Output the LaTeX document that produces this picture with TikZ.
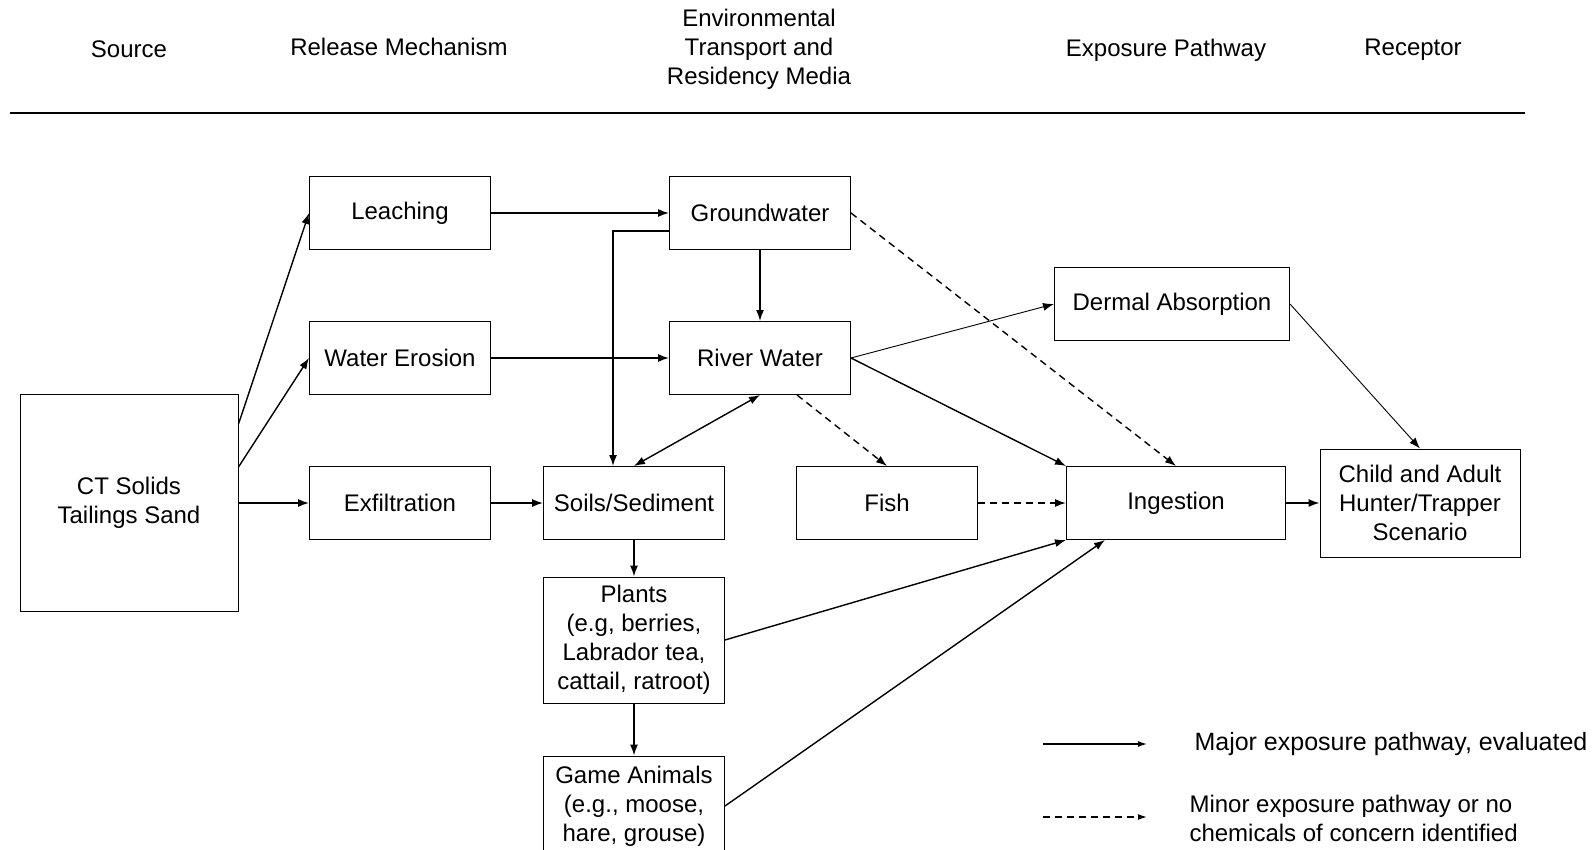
\documentclass[tikz,border=0pt]{standalone}
\usepackage{fontspec}
\setmainfont{Liberation Sans}
\usetikzlibrary{arrows.meta}

\tikzset{
  box/.style={draw, line width=1pt, minimum width=181pt, minimum height=73pt, align=center, inner sep=2pt,
              font=\fontsize{24}{29}\selectfont},
  hdr/.style={align=center, font=\fontsize{24}{29}\selectfont},
  note/.style={align=left, anchor=west, font=\fontsize{24}{29}\selectfont},
  major/.style={line width=1.4pt, -{Latex[length=11pt,width=8pt]}},
  thin/.style={line width=0.9pt, -{Latex[length=11pt,width=8pt]}},
  minor/.style={line width=1.4pt, dash pattern=on 7pt off 5pt, -{Latex[length=11pt,width=8pt]}}
}

\begin{document}
\begin{tikzpicture}[x=1pt, y=-1pt]
  \useasboundingbox (0,0) rectangle (1592,850);

  % column headings
  \node [hdr] (hsrc) at (129, 49) {Source};
  \node [hdr] (hrel) at (399, 47) {Release Mechanism};
  \node [hdr] (henv) at (759, 49) {Environmental\\Transport and\\Residency Media};
  \node [hdr] (hexp) at (1166, 50) {Exposure Pathway};
  \node [hdr] (hrec) at (1413, 50) {Receptor};
  \draw [line width=1.5pt] (10, 113) -- (1525, 113);

  % boxes
  \node [box, minimum width=218pt, minimum height=217pt] (src) at (129, 503) {CT Solids\\Tailings Sand};

  \node [box] (leach)   at (400, 213) {Leaching};
  \node [box] (erosion) at (400, 358) {Water Erosion};
  \node [box] (exfil)   at (400, 503) {Exfiltration};

  \node [box] (gw)    at (760, 213) {Groundwater};
  \node [box] (river) at (760, 358) {River Water};
  \node [box] (soil)  at (634, 503) {Soils/Sediment};
  \node [box] (fish)  at (887, 503) {Fish};
  \node [box, minimum height=126pt] (plants) at (634, 640) {Plants\\(e.g, berries,\\Labrador tea,\\cattail, ratroot)};
  \node [box, minimum height=100pt] (game) at (634, 806) {Game Animals\\(e.g., moose,\\hare, grouse)};

  \node [box, minimum width=235pt, minimum height=72pt] (dermal) at (1172, 304) {Dermal Absorption};
  \node [box, minimum width=219pt] (ingest) at (1176, 503) {Ingestion};
  \node [box, minimum width=200pt, minimum height=108pt] (receptor) at (1420, 503) {Child and Adult\\Hunter/Trapper\\Scenario};

  % pathways
  \draw [major] ([yshift=79pt]src.east) -- (leach.west);
  \draw [major] ([yshift=36pt]src.east) -- (erosion.west);
  \draw [major] (src.east) -- (exfil.west);

  \draw [major] (leach.east) -- (gw.west);
  \draw [major] (erosion.east) -- (river.west);
  \draw [major] (exfil.east) -- (soil.west);

  \draw [major] ([yshift=-18pt]gw.west) -| ([xshift=-21pt]soil.north);
  \draw [major] (gw.south) -- (river.north);
  \draw [major, {Latex[length=11pt,width=8pt]}-{Latex[length=11pt,width=8pt]}] (river.south) -- (soil.north);
  \draw [minor] ([xshift=37pt]river.south) -- (fish.north);

  \draw [thin] (river.east) -- (dermal.west);
  \draw [major] (river.east) -- (ingest.north west);
  \draw [minor] (gw.east) -- (ingest.north);
  \draw [minor] (fish.east) -- (ingest.west);

  \draw [major] (soil.south) -- (plants.north);
  \draw [major] (plants.south) -- (game.north);
  \draw [major] (plants.east) -- (ingest.south west);
  \draw [major] (game.east) -- ([xshift=-71pt]ingest.south);

  \draw [thin] (dermal.east) -- (receptor.north);
  \draw [major] (ingest.east) -- (receptor.west);

  % legend
  \coordinate (majA) at (1043, 744);
  \coordinate (majB) at (1147, 744);
  \draw [major, -{Latex[length=9pt,width=6pt]}] (majA) -- (majB);
  \node [note, font=\fontsize{25}{29}\selectfont] (majT) at (1191, 744) {Major exposure pathway, evaluated};

  \coordinate (minA) at (1043, 817);
  \coordinate (minB) at (1147, 817);
  \draw [minor, -{Latex[length=9pt,width=6pt]}] (minA) -- (minB);
  \node [note] (minT) at (1186, 818) {Minor exposure pathway or no\\chemicals of concern identified};
\end{tikzpicture}
\end{document}
